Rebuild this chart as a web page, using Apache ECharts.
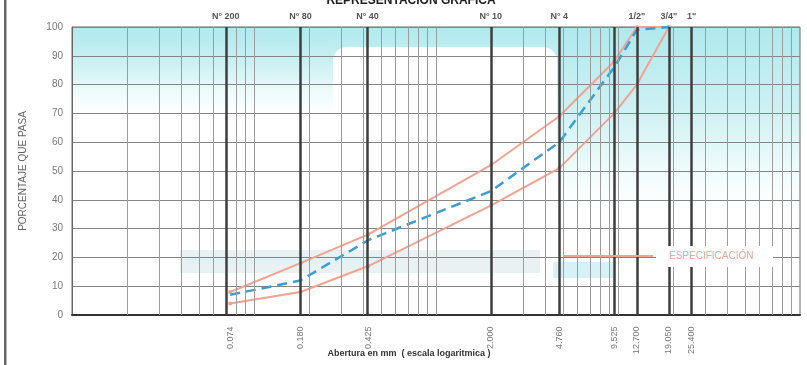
<!DOCTYPE html>
<html>
<head>
<meta charset="utf-8">
<script src="https://cdn.jsdelivr.net/npm/echarts@6/dist/echarts.min.js"></script>
<style>html,body{margin:0;padding:0;background:#fff;}#c{width:807px;height:365px;}</style>
</head>
<body>
<div id="c"></div>
<script>
// ---- data ----
var sieveSizes = [0.074, 0.18, 0.425, 2.0, 4.76, 9.525, 12.7, 19.05, 25.4];
var sieveTopLabels = ['N° 200', 'N° 80', 'N° 40', 'N° 10', 'N° 4', '', '1/2"', '3/4"', '1"'];
var sieveBottomLabels = ['0.074', '0.180', '0.425', '2.000', '4.760', '9.525', '12.700', '19.050', '25.400'];
var curveSizes = [0.074, 0.18, 0.425, 2.0, 4.76, 9.525, 12.7, 19.05];
var specUpper = [8, 18, 28, 52, 69, 88, 100, 100];
var specLower = [4, 8, 17, 38, 51, 70, 80, 100];
var passing   = [7, 12, 26, 43, 60, 86, 99, 100];
var yTicks = [0, 10, 20, 30, 40, 50, 60, 70, 80, 90, 100];

// ---- helpers ----
function pairs(xs, ys) { return xs.map(function (x, i) { return [x, ys[i]]; }); }

var minorLines = [];
[0.01, 0.1, 1, 10].forEach(function (d) {
  for (var m = 1; m <= 9; m++) {
    if (!(d === 0.01 && m === 1)) minorLines.push(d * m);
  }
});

var gridMarks = minorLines.map(function (v) {
  return { xAxis: v, lineStyle: { color: '#9c9c9c', width: 1, type: 'solid' }, label: { show: false } };
});
var sieveMarks = sieveSizes.map(function (v, i) {
  return {
    xAxis: v,
    lineStyle: { color: '#3e3e3e', width: 2.5, type: 'solid' },
    label: { show: true, position: 'end', formatter: sieveTopLabels[i], distance: 6,
             color: '#555', fontSize: 9, fontWeight: 'bold' }
  };
});

var chart = echarts.init(document.getElementById('c'), null, { renderer: 'canvas' });
var pink = '#f1a391';
var option = {
  animation: false,
  backgroundColor: '#fff',
  textStyle: { fontFamily: 'Liberation Sans, Arial, sans-serif' },
  grid: { left: 72, right: 7, top: 27, bottom: 50, show: true, borderColor: '#666', borderWidth: 1, backgroundColor: 'transparent' },
  xAxis: {
    type: 'log', logBase: 10, min: 0.01, max: 100,
    axisLabel: { show: false }, axisTick: { show: false }, splitLine: { show: false }, minorSplitLine: { show: false },
    axisLine: { show: true, lineStyle: { color: '#333', width: 2 } }
  },
  yAxis: {
    type: 'value', min: 0, max: 100, interval: 10,
    name: 'PORCENTAJE QUE PASA', nameLocation: 'middle', nameGap: 44,
    nameTextStyle: { color: '#666', fontSize: 10 },
    axisLabel: { color: '#777', fontSize: 10, margin: 9,
                 formatter: function (v) { return yTicks.indexOf(v) >= 0 ? String(v) : ''; } },
    axisTick: { show: false },
    axisLine: { show: true, lineStyle: { color: '#666', width: 1 } },
    splitLine: { show: true, lineStyle: { color: '#858585', width: 1 } }
  },
  graphic: [
    { type: 'rect', z: -10, shape: { x: 4, y: 0, width: 2.5, height: 365 }, style: { fill: '#666' } },
    { type: 'rect', z: -10, shape: { x: 72, y: 27, width: 261, height: 88 },
      style: { fill: new echarts.graphic.LinearGradient(0, 0, 0, 1, [
        { offset: 0, color: '#b0e9ed' }, { offset: 0.4, color: '#caf0f2' }, { offset: 0.75, color: '#f0fbfb' }, { offset: 1, color: '#ffffff' }]) } },
    { type: 'rect', z: -10, shape: { x: 333, y: 27, width: 224, height: 60 },
      style: { fill: new echarts.graphic.LinearGradient(0, 0, 0, 1, [
        { offset: 0, color: '#b0e9ed' }, { offset: 1, color: '#d8f5f6' }]) } },
    { type: 'rect', z: -10, shape: { x: 557, y: 27, width: 243, height: 180 },
      style: { fill: new echarts.graphic.LinearGradient(0, 0, 0, 1, [
        { offset: 0, color: '#afe9ed' }, { offset: 0.45, color: '#cdf1f3' }, { offset: 0.8, color: '#f0fbfb' }, { offset: 1, color: '#ffffff' }]) } },
    { type: 'rect', z: -9, shape: { x: 333, y: 47, width: 224, height: 200, r: [14, 14, 0, 0] }, style: { fill: '#ffffff' } },
    { type: 'rect', z: -8, shape: { x: 180, y: 250, width: 360, height: 23 }, style: { fill: '#eaf1f2' } },
    { type: 'rect', z: -8, shape: { x: 185, y: 256, width: 200, height: 8 }, style: { fill: '#e0f2f5' } },
    { type: 'rect', z: -8, shape: { x: 553, y: 262, width: 60, height: 16 }, style: { fill: '#d6f2f6' } },
    { type: 'text', z: 10, style: { x: 411, y: 1, text: 'REPRESENTACIÓN GRÁFICA', align: 'center', verticalAlign: 'middle',
      fill: '#222', font: 'bold 12px "Liberation Sans", Arial, sans-serif' } },
    { type: 'text', z: 10, style: { x: 409, y: 354, text: 'Abertura en mm  ( escala logaritmica )', align: 'center', verticalAlign: 'middle',
      fill: '#333', font: 'bold 9px "Liberation Sans", Arial, sans-serif' } },
    { type: 'rect', z: 20, shape: { x: 656, y: 246, width: 117, height: 21 }, style: { fill: '#ffffff' } },
    { type: 'line', z: 20, shape: { x1: 563, y1: 256, x2: 653, y2: 256 }, style: { stroke: pink, lineWidth: 2 } },
    { type: 'text', z: 21, style: { x: 669, y: 256, text: 'ESPECIFICACIÓN', align: 'left', verticalAlign: 'middle',
      fill: '#f0a595', font: '10px "Liberation Sans", Arial, sans-serif' } }
  ],
  series: [
    {
      type: 'scatter', z: 1, silent: true, symbolSize: 1,
      itemStyle: { color: 'rgba(0,0,0,0)' },
      data: sieveSizes.map(function (v) { return [v, 0]; }),
      label: {
        show: true, position: 'bottom', distance: 11, rotate: 90, align: 'right', verticalAlign: 'middle',
        color: '#555', fontSize: 9,
        formatter: function (p) { return sieveBottomLabels[p.dataIndex]; }
      },
      markLine: { silent: true, symbol: 'none', animation: false, data: gridMarks.concat(sieveMarks) }
    },
    { name: 'Especificación superior', type: 'line', z: 3, data: pairs(curveSizes, specUpper),
      symbol: 'circle', symbolSize: 4, itemStyle: { color: pink }, lineStyle: { color: pink, width: 2 } },
    { name: 'Especificación inferior', type: 'line', z: 3, data: pairs(curveSizes, specLower),
      symbol: 'circle', symbolSize: 4, itemStyle: { color: pink }, lineStyle: { color: pink, width: 2 } },
    { name: 'Muestra', type: 'line', z: 4, data: pairs(curveSizes, passing),
      symbol: 'none', lineStyle: { color: '#3a9fd0', width: 2.5, type: [10, 6] } }
  ]
};
chart.setOption(option);
</script>
</body>
</html>
